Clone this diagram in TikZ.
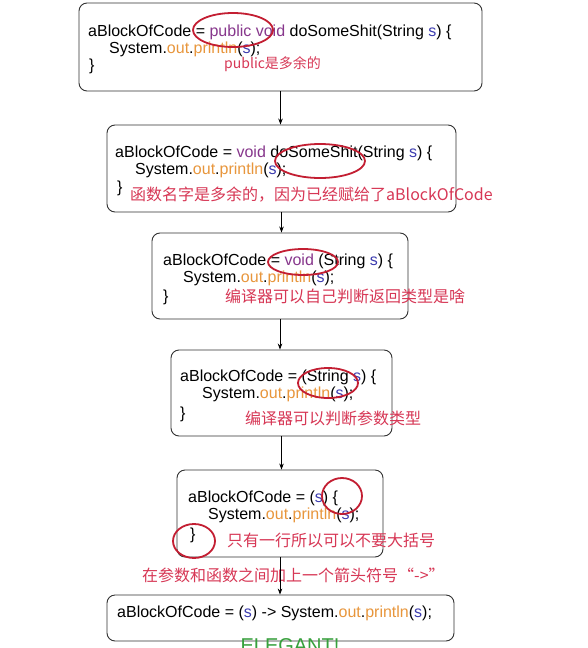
\documentclass[tikz,border=0pt]{standalone}
\usepackage{fontspec}
\setmainfont{Liberation Sans}
\newfontfamily\cjk{Noto Sans CJK SC}
\usetikzlibrary{arrows.meta}
\definecolor{kwc}{RGB}{135,55,140}
\definecolor{varc}{RGB}{60,60,175}
\definecolor{fldc}{RGB}{232,150,60}
\definecolor{notec}{RGB}{215,55,85}
\definecolor{ringc}{RGB}{195,30,50}
\definecolor{goodc}{RGB}{55,160,60}
\definecolor{boxc}{RGB}{50,50,50}
\newcommand\jkw[1]{\textcolor{kwc}{#1}}
\newcommand\jvar[1]{\textcolor{varc}{#1}}
\newcommand\jfld[1]{\textcolor{fldc}{#1}}
\tikzset{
  codebox/.style={draw=boxc, line width=0.9pt, rounded corners=8pt, rectangle, inner sep=0pt},
  code/.style={anchor=base west, inner sep=0pt, font=\fontsize{16}{16}\selectfont},
  note/.style={anchor=base west, inner sep=0pt, text=notec, font=\cjk\fontsize{16}{16}\selectfont},
  smallnote/.style={anchor=base west, inner sep=0pt, text=notec, font=\cjk\fontsize{14}{14}\selectfont},
  ring/.style={draw=ringc, line width=1.8pt},
  flow/.style={draw=black, line width=0.7pt, -{Stealth[length=6pt,width=4.5pt]}}
}
\begin{document}
\begin{tikzpicture}[x=1pt,y=-1pt]
\useasboundingbox (0,0) rectangle (588,648);
\clip (0,0) rectangle (588,648);
\fill[white] (0,0) rectangle (588,648);
% boxes
\node[codebox, minimum width=403pt, minimum height=88pt] (b1) at (280.5,47) {};
\node[codebox, minimum width=349pt, minimum height=87pt] (b2) at (281.5,168.5) {};
\node[codebox, minimum width=256pt, minimum height=86pt] (b3) at (280,276) {};
\node[codebox, minimum width=221pt, minimum height=86pt] (b4) at (281.5,393) {};
\node[codebox, minimum width=206pt, minimum height=87pt] (b5) at (280,513.5) {};
\node[codebox, minimum width=347pt, minimum height=46pt] (b6) at (280.5,618) {};
% box 1
\node[code] (t1a) at (88,36) {aBlockOfCode = \jkw{public void} doSomeShit(String \jvar{s}) \{};
\node[code] (t1b) at (109,53) {System.\jfld{out}.\jfld{println}(\jvar{s});};
\node[code] (t1c) at (89,70) {\}};
\node[smallnote] (n1) at (224,68) {public是多余的};
% box 2
\node[code] (t2a) at (115,157) {aBlockOfCode = \jkw{void} doSomeShit(String \jvar{s}) \{};
\node[code] (t2b) at (135,174) {System.\jfld{out}.\jfld{println}(\jvar{s});};
\node[code] (t2c) at (117,192) {\}};
\node[note] (n2) at (130,200) {函数名字是多余的，因为已经赋给了aBlockOfCode};
% box 3
\node[code] (t3a) at (163,265) {aBlockOfCode = \jkw{void} (String \jvar{s}) \{};
\node[code] (t3b) at (183,282) {System.\jfld{out}.\jfld{println}(\jvar{s});};
\node[code] (t3c) at (163,301) {\}};
\node[note] (n3) at (225,302) {编译器可以自己判断返回类型是啥};
% box 4
\node[code] (t4a) at (180,381) {aBlockOfCode = (String \jvar{s}) \{};
\node[code] (t4b) at (202,398) {System.\jfld{out}.\jfld{println}(\jvar{s});};
\node[code] (t4c) at (180,418) {\}};
\node[note] (n4) at (245,424) {编译器可以判断参数类型};
% box 5
\node[code] (t5a) at (188,502) {aBlockOfCode = (\jvar{s}) \{};
\node[code] (t5b) at (208,519) {System.\jfld{out}.\jfld{println}(\jvar{s});};
\node[code] (t5c) at (190,539) {\}};
\node[note] (n5) at (227,546) {只有一行所以可以不要大括号};
% box 6
\node[note] (n6) at (142,581) {在参数和函数之间加上一个箭头符号“->”};
\node[code] (t6a) at (117,617) {aBlockOfCode = (\jvar{s}) -> System.\jfld{out}.\jfld{println}(\jvar{s});};
\node[anchor=base, inner sep=0pt, text=goodc, font=\fontsize{20}{20}\selectfont] (el) at (290,652) {ELEGANT!};
% rings
\draw[ring] (233,30) ellipse [x radius=40, y radius=17];
\draw[ring] (320,161) ellipse [x radius=45, y radius=17];
\draw[ring] (303,262) ellipse [x radius=35, y radius=13];
\draw[ring] (328,383) ellipse [x radius=30, y radius=15];
\draw[ring] (342,496) ellipse [x radius=20, y radius=18];
\draw[ring] (194,541) ellipse [x radius=21, y radius=17];
% connectors
\draw[flow] (b1.south) -- (b1.south |- b2.north);
\draw[flow] (b2.south) -- (b2.south |- b3.north);
\draw[flow] (b3.south) -- (b3.south |- b4.north);
\draw[flow] (b4.south) -- (b4.south |- b5.north);
\draw[flow] (b5.south) -- (b5.south |- b6.north);
\end{tikzpicture}
\end{document}
